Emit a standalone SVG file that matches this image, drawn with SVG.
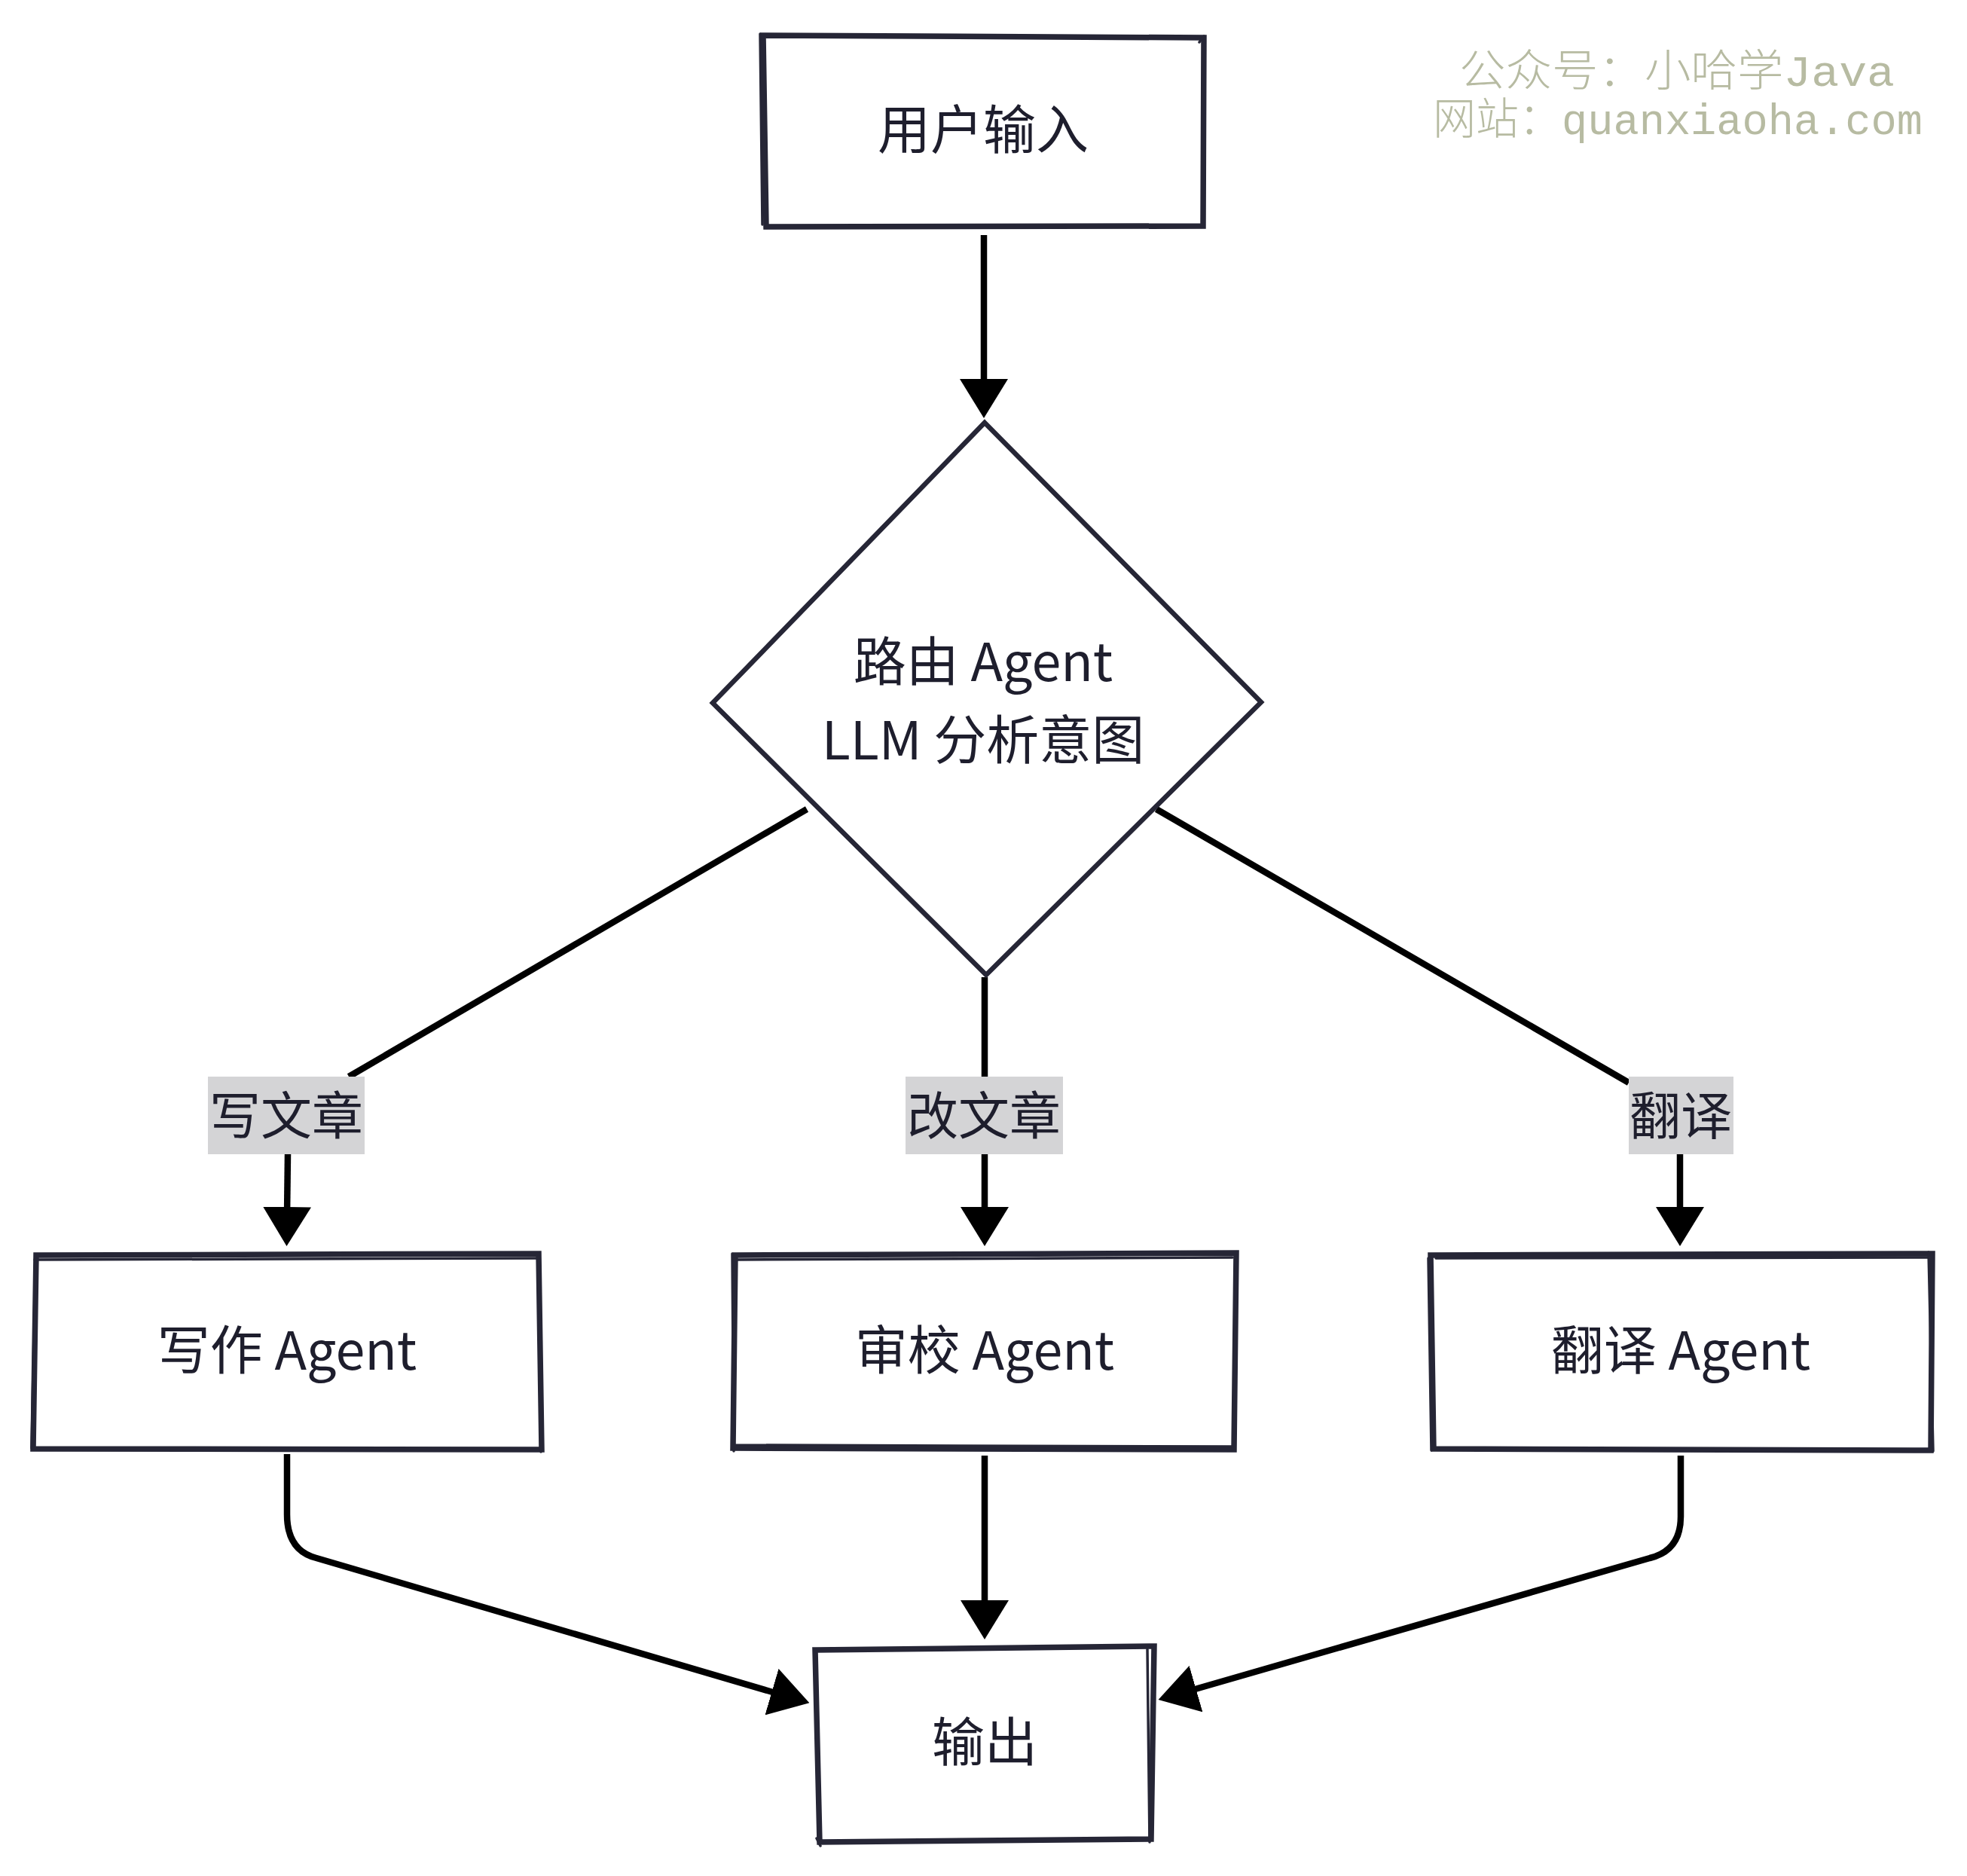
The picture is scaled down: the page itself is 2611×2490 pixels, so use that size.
<svg xmlns="http://www.w3.org/2000/svg" width="2611" height="2490" viewBox="0 0 2611 2490">
<style>
.bg{fill:#ffffff}
.node{fill:#ffffff;stroke:#262636;stroke-width:7.5;stroke-linejoin:miter}
.sk{fill:none;stroke:#262636;stroke-width:3.5;stroke-linecap:round}
.dia{fill:#ffffff;stroke:#262636;stroke-width:6.5}
.t{font-family:"Noto Sans CJK SC","Noto Sans",sans-serif;font-size:70px;fill:#1e1e2d;text-anchor:middle}
.lt{font-family:"Noto Sans CJK SC","Noto Sans",sans-serif;font-size:68px;fill:#1e1e2d;text-anchor:middle}
.conn{fill:none;stroke:#000000;stroke-width:8.5;stroke-linejoin:round}
.lbg{fill:#d4d4d6}
.wm{font-family:"Liberation Mono","Noto Sans CJK SC",monospace;font-size:58px;font-weight:300;fill:#b7bba2}
</style>
<defs>
<marker id="ah" markerUnits="userSpaceOnUse" viewBox="0 0 52 64" markerWidth="52" markerHeight="64" refX="12" refY="32" orient="auto">
<path d="M0,0 L52,32 L0,64 Z" fill="#000000"/>
</marker>
</defs>
<rect class="bg" x="0" y="0" width="2611" height="2490"/>

<g id="watermark">
<text class="wm" x="1937" y="114" textLength="578" lengthAdjust="spacingAndGlyphs">公众号：小哈学Java</text>
<text class="wm" x="1902" y="178" textLength="650" lengthAdjust="spacingAndGlyphs">网站：quanxiaoha.com</text>
</g>

<g id="connectors">
<path class="conn" d="M1306,312 L1306,515" marker-end="url(#ah)"/>
<path class="conn" d="M1071,1074 L463,1429"/>
<path class="conn" d="M1307,1297 L1307,1429"/>
<path class="conn" d="M1535,1074 L2162,1437"/>
<path class="conn" d="M382,1532 L381,1614" marker-end="url(#ah)"/>
<path class="conn" d="M1307,1532 L1307,1614" marker-end="url(#ah)"/>
<path class="conn" d="M2230,1532 L2230,1614" marker-end="url(#ah)"/>
<path class="conn" d="M381,1930 L381,2010 Q381,2058 420,2068 L1036,2249" marker-end="url(#ah)"/>
<path class="conn" d="M1307,1932 L1307,2136" marker-end="url(#ah)"/>
<path class="conn" d="M2231,1932 L2231,2013 Q2231,2058 2190,2068 L1576,2245" marker-end="url(#ah)"/>
<g id="label-write">
<rect class="lbg" x="276" y="1429" width="208" height="103"/>
<text class="lt" x="380" y="1506">写文章</text>
</g>
<g id="label-edit">
<rect class="lbg" x="1202" y="1429" width="209" height="103"/>
<text class="lt" x="1306" y="1506">改文章</text>
</g>
<g id="label-translate">
<rect class="lbg" x="2162" y="1429" width="139" height="103"/>
<text class="lt" x="2231" y="1506">翻译</text>
</g>
</g>

<g id="node-input">
<path class="node" d="M1013,47 L1598,50 L1597,300 L1017,301 Z"/>
<path class="sk" d="M1009,45 L1012,298 M1592,56 L1598,48"/>
<text class="t" x="1305" y="198">用户输入</text>
</g>

<g id="node-router">
<polygon class="dia" points="1307,561 1674,932 1309,1294 946,933"/>
<text class="t" x="1305" y="904">路由 Agent</text>
<text class="t" x="1305" y="1008">LLM 分析意图</text>
</g>

<g id="node-write">
<path class="node" d="M48,1666 L715,1664 L719,1924 L44,1923 Z"/>
<path class="sk" d="M46,1672 L712,1670 M715,1668 L718,1927 M42,1922 L47,1666"/>
<text class="t" x="381" y="1818">写作 Agent</text>
</g>

<g id="node-review">
<path class="node" d="M976,1666 L1641,1663 L1638,1924 L973,1922 Z"/>
<path class="sk" d="M979,1672 L1636,1669 M972,1664 L974,1926 M975,1918 L1636,1920"/>
<text class="t" x="1307" y="1818">审校 Agent</text>
</g>

<g id="node-translate">
<path class="node" d="M1899,1666 L2565,1664 L2563,1925 L1903,1923 Z"/>
<path class="sk" d="M1896,1670 L1900,1925 M1906,1670 L2560,1669 M2560,1662 L2566,1926"/>
<text class="t" x="2231" y="1818">翻译 Agent</text>
</g>

<g id="node-output">
<path class="node" d="M1082,2190 L1532,2185 L1528,2441 L1088,2445 Z"/>
<path class="sk" d="M1523,2189 L1526,2445 M1084,2440 L1089,2450"/>
<text class="t" x="1307" y="2338">输出</text>
</g>
</svg>
